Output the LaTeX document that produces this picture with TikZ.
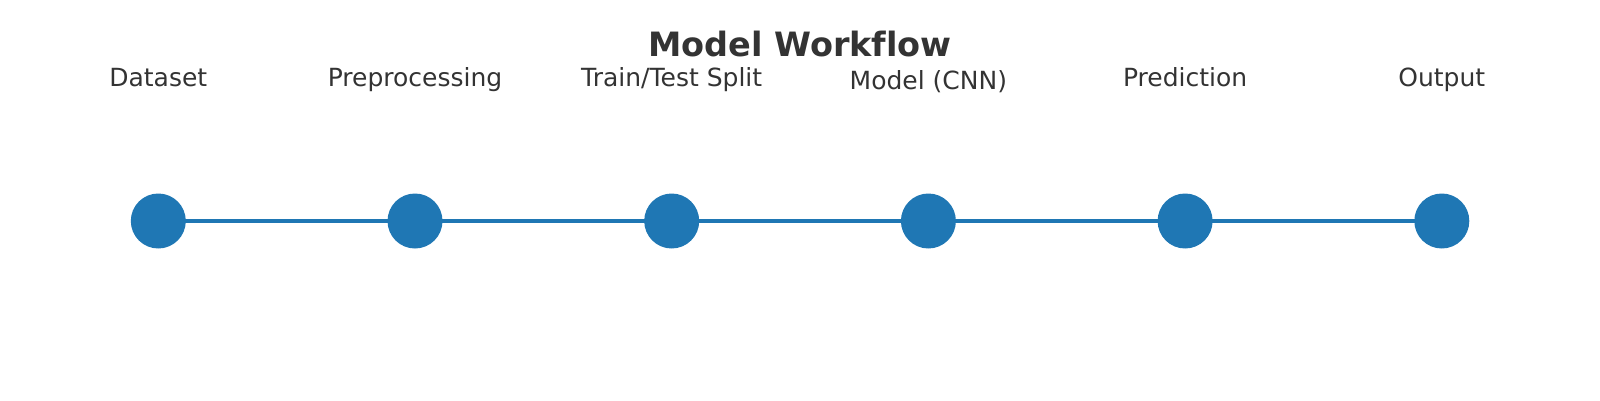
\documentclass[tikz,border=0pt]{standalone}
\usepackage{fontspec}
\setmainfont{DejaVu Sans}[Ligatures=NoCommon]
\definecolor{mblue}{HTML}{1F77B4}
\definecolor{tgray}{HTML}{333333}
\tikzset{
  stage/.style={circle,fill=mblue,draw=none,minimum size=55pt,inner sep=0pt},
  lbl/.style={anchor=base,text=tgray,font=\fontsize{25}{30}\selectfont,inner sep=0pt},
  ttl/.style={anchor=base,text=tgray,font=\fontsize{33.5}{38}\selectfont\bfseries,inner sep=0pt},
  link/.style={draw=mblue,line width=4pt}
}
\begin{document}
\begin{tikzpicture}[x=1pt,y=1pt]
\useasboundingbox (0,0) rectangle (1600,400);
\node[ttl] (title) at (800,344) {Model Workflow};
\foreach \i/\x/\yy/\t in {1/158.3/313.3/{Dataset},2/415/313.3/{Preprocessing},3/671.7/313.3/{Train/Test Split},4/928.4/310.6/{Model (CNN)},5/1185.1/313.3/{Prediction},6/1441.8/313.3/{Output}}{
  \node[lbl] (l\i) at (\x,\yy) {\t};
}
\foreach \i/\x in {1/158.3,2/415,3/671.7,4/928.4,5/1185.1,6/1441.8}{
  \coordinate (c\i) at (\x,179);
}
\draw[link] (c1) -- (c2) -- (c3) -- (c4) -- (c5) -- (c6);
\foreach \i in {1,...,6}{ \node[stage] (n\i) at (c\i) {}; }
\end{tikzpicture}
\end{document}
